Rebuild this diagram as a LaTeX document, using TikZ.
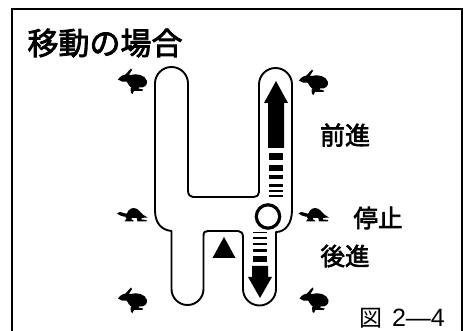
\documentclass[tikz,border=0pt]{standalone}
\usepackage{fontspec}
\newfontfamily\cjk{Noto Sans CJK JP}[FakeBold=2.6]
\newfontfamily\cjkplain{Noto Sans CJK JP}
\setsansfont{Liberation Sans}
\tikzset{
  label text/.style={inner sep=0pt,text=black},
  outline/.style={draw=black,line width=1.9pt,line join=round},
  solid mark/.style={fill=black,draw=none},
  rabbit/.pic={
    \fill[black] (-14.5,-1.5) .. controls (-12,-5) and (-9,-7) .. (-5,-6) -- (-2,-6) .. controls (4,-8) and (13,-6) .. (14.5,0) .. controls (15,4) and (12,7) .. (7,6.5) -- (-2,6) .. controls (-5,3) and (-5,1) .. (-6,0.5) .. controls (-9,1.5) and (-12,0.5) .. (-14.5,-1.5) -- cycle;
    \fill[black] (-8,-5.5) -- (-1.5,-12.5) -- (-0.5,-11) -- (-3,-7) -- (-4,-4) -- cycle;
    \fill[black] (0,4) -- (-2,8) -- (-1.5,12) -- (0,13) -- (1.5,10) -- (10,10) -- (10.5,8.5) -- (6,7.5) -- (8,4) -- cycle;
  },
  turtle/.pic={
    \fill[black] (-7,3) .. controls (-6,-3) and (-3,-7) .. (1,-7) .. controls (6,-7) and (8,-2) .. (11,0) -- (15,2.5) -- (8,3) -- cycle;
    \fill[black] (-15.5,-1.5) .. controls (-14,-3.5) and (-11,-3.5) .. (-9,-2) -- (-5,-1) -- (-5,2) -- (-9,1.5) .. controls (-11,0) and (-14,1) .. (-15.5,-1.5) -- cycle;
    \fill[black] (-8,6.5) -- (-5,2) -- (-1,2) -- (-1,4.5) -- (1,5.5) -- (1,6.5) -- cycle;
    \fill[black] (4,2) -- (9,2) -- (9,4.5) -- (14,5) -- (14,6.5) -- (5,6.5) -- cycle;
  }
}
\begin{document}
\begin{tikzpicture}[x=1pt,y=-1pt]
\useasboundingbox (0,0) rectangle (467,331);
\fill[white] (0,0) rectangle (467,331);
% frame
\draw[black,line width=1.9pt] (12,331) -- (12,9) -- (462,9) -- (462,331);
% H-shaped gate
\draw[outline]
  (155,210)
  -- (155,83.5) arc[start angle=180,end angle=360,radius=16.5]
  -- (188,190) .. controls (188,195) and (190,197) .. (193,197)
  -- (254,197) .. controls (257,197) and (259,195) .. (259,192)
  -- (259,84.5) arc[start angle=180,end angle=360,radius=16.5]
  -- (292,210) .. controls (292,224) and (285,232) .. (276,232)
  -- (276,289) arc[start angle=0,end angle=180,radius=16.5]
  -- (243,237) .. controls (243,233) and (241,231) .. (238,231)
  -- (208,231) .. controls (205,231) and (203.5,232) .. (203.5,236)
  -- (203.5,289) arc[start angle=0,end angle=180,radius=16]
  -- (171.5,231) .. controls (162,230) and (155,224) .. (155,210) -- cycle;
% triangle
\fill[solid mark] (224,237) -- (235.5,258) -- (212.5,258) -- cycle;
% forward arrow
\fill[solid mark] (276,81) -- (288,103) -- (284,103) -- (284,148) -- (268,148) -- (268,103) -- (264,103) -- cycle;
\fill[solid mark] (269,153) rectangle (283,160);
\fill[solid mark] (269,165) rectangle (283,171);
\fill[solid mark] (269,175) rectangle (283,179);
\fill[solid mark] (269,184) rectangle (283,187);
\fill[solid mark] (269,190) rectangle (283,192);
\fill[solid mark] (269,195) rectangle (283,197);
% reverse arrow
\fill[solid mark] (253,232) rectangle (267,233.5);
\fill[solid mark] (253,237) rectangle (267,239);
\fill[solid mark] (253,243) rectangle (267,245.5);
\fill[solid mark] (253,249) rectangle (267,252.5);
\fill[solid mark] (253,256) rectangle (267,262);
\fill[solid mark] (260,298) -- (248,277) -- (252,277) -- (252,266) -- (268,266) -- (268,277) -- (272,277) -- cycle;
% stop circle
\draw[black,line width=3.2pt,fill=white] (268,216.5) circle[radius=11.7];
% animals
\pic at (132.5,81) {rabbit};
\pic at (313.5,82) {rabbit};
\pic at (132.5,300) {rabbit};
\pic at (314,300) {rabbit};
\pic at (132.5,215) {turtle};
\pic at (314,215) {turtle};
% texts
\node[label text,font=\cjk\fontsize{31}{31}\selectfont] (title) at (105,43) {移動の場合};
\node[label text,font=\cjk\fontsize{25}{25}\selectfont] (fwd) at (345,135) {前進};
\node[label text,font=\cjk\fontsize{24.5}{25}\selectfont] (stop) at (378,218) {停止};
\node[label text,font=\cjk\fontsize{24.5}{25}\selectfont] (rev) at (345,256) {後進};
\node[label text,font=\fontsize{25}{25}\selectfont] (figno) at (402,318) {{\cjkplain\fontsize{23}{23}\selectfont 図}\hspace{10pt}{\sffamily 2—4}};
\end{tikzpicture}
\end{document}
